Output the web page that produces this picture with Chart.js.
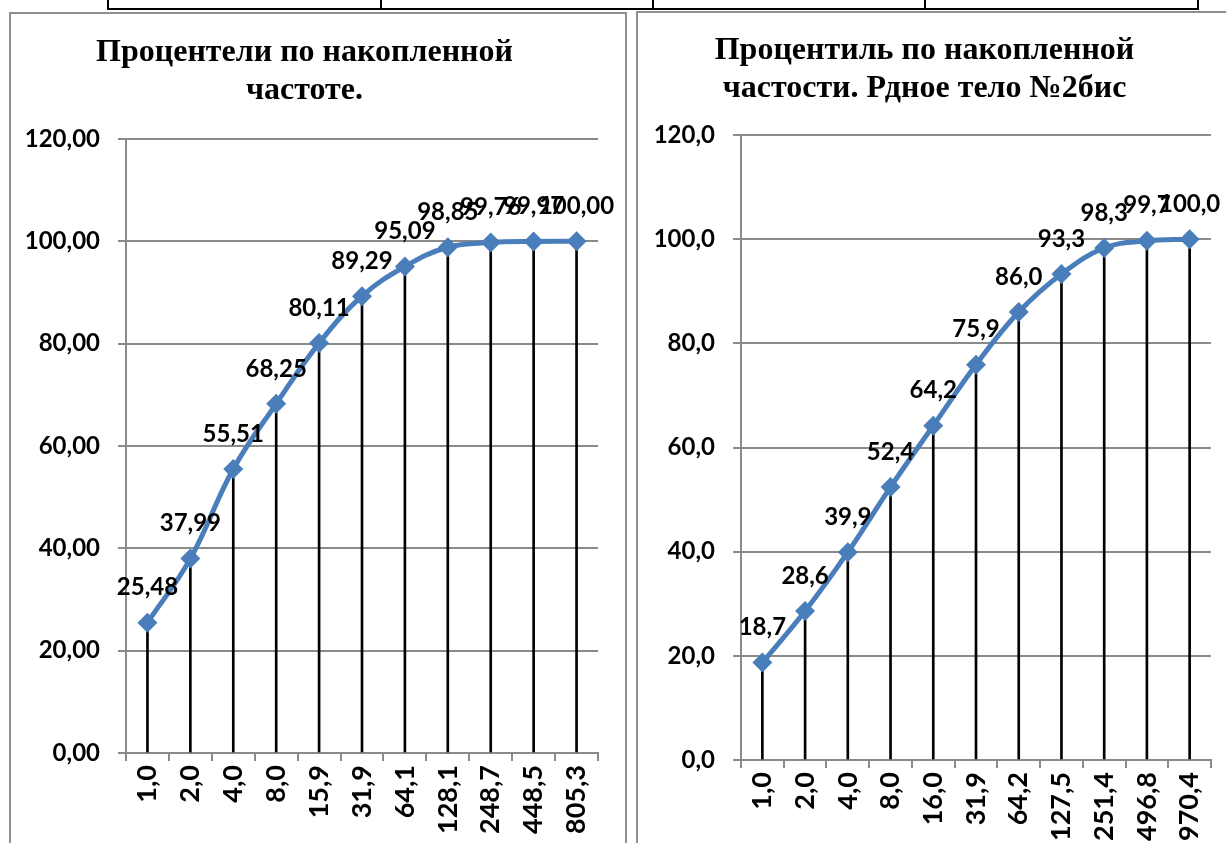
<!DOCTYPE html>
<html>
<head>
<meta charset="utf-8">
<script src="https://cdn.jsdelivr.net/npm/chart.js@4.4.0/dist/chart.umd.min.js"></script>
<style>
  body { margin: 0; background: #fff; width: 1226px; height: 843px; overflow: hidden; position: relative; }
  .tbl { position: absolute; left: 107px; top: -20px; width: 1088px; height: 26px; border: 2px solid #000; }
  .tbl div { position: absolute; top: 0; bottom: 0; border-left: 2px solid #000; }
  .box { position: absolute; border: 2px solid #8f8f8f; background: #fff; }
  #box1 { left: 9px; top: 12px; width: 614px; height: 860px; }
  #box2 { left: 636px; top: 11px; width: 600px; height: 860px; }
  canvas { display: block; }
</style>
</head>
<body>
<div class="tbl"><div style="left:271px"></div><div style="left:543px"></div><div style="left:815px"></div></div>
<div class="box" id="box1"><canvas id="chart1" width="614" height="860"></canvas></div>
<div class="box" id="box2"><canvas id="chart2" width="600" height="860"></canvas></div>
<script>
// cumulative frequency, sample 1
const freqLabels1 = ["1,0", "2,0", "4,0", "8,0", "15,9", "31,9", "64,1", "128,1", "248,7", "448,5", "805,3"];
const cumPercent1 = [25.48, 37.99, 55.51, 68.25, 80.11, 89.29, 95.09, 98.85, 99.76, 99.97, 100.00];

// cumulative frequency, ore body #2bis
const freqLabels2 = ["1,0", "2,0", "4,0", "8,0", "16,0", "31,9", "64,2", "127,5", "251,4", "496,8", "970,4"];
const cumPercent2 = [18.7, 28.6, 39.9, 52.4, 64.2, 75.9, 86.0, 93.3, 98.3, 99.7, 100.0];

const title1 = ["Процентели по накопленной", "частоте."];
const title2 = ["Процентиль по накопленной", "частости. Рдное тело №2бис"];

const lineBlue = "#4A7EBB";
const gridGray = "#8a8a8a";
const tickFont = { family: "Lato", size: 24, weight: "bold" };
const xTickFont = { family: "Lato", size: 27, weight: "bold" };

function fmt(v, dec) {
    return v.toFixed(dec).replace(".", ",");
}

// writes the value above every marker of the line
const valueLabels = {
    id: "valueLabels",
    afterDatasetsDraw(chart, args, opts) {
        const meta = chart.getDatasetMeta(0);
        const values = chart.data.datasets[0].data;
        const ctx = chart.ctx;
        ctx.save();
        ctx.font = "bold 24px Lato";
        ctx.fillStyle = "#000";
        ctx.textAlign = "center";
        ctx.textBaseline = "middle";
        meta.data.forEach((pt, i) => {
            ctx.fillText(fmt(values[i], opts.decimals), pt.x, pt.y - 35);
        });
        ctx.restore();
    }
};

function makeChart(id, labels, values, title, dec, cfg) {
    const ctx = document.getElementById(id).getContext("2d");
    return new Chart(ctx, {
        type: "bar",
        data: {
            labels: labels,
            datasets: [{
                type: "line",
                data: values,
                borderColor: lineBlue,
                backgroundColor: lineBlue,
                borderWidth: 5,
                tension: 0.4,
                pointStyle: "rectRot",
                pointRadius: 10,
                pointBorderWidth: 0,
                pointBackgroundColor: lineBlue,
                order: 0,
            }, {
                // drop lines from each point down to the axis
                data: values,
                backgroundColor: "#000",
                barThickness: 2,
                order: 1,
            }]
        },
        options: {
            responsive: false,
            animation: false,
            layout: { padding: { left: 0, right: 27, top: 0, bottom: 0 } },
            plugins: {
                legend: { display: false },
                tooltip: { enabled: false },
                title: {
                    display: true,
                    text: title,
                    color: "#000",
                    font: { family: "Liberation Serif", size: 32, weight: "bold", lineHeight: 38 / 32 },
                    padding: { top: cfg.titleTop, bottom: cfg.titleBottom },
                },
                valueLabels: { decimals: dec },
            },
            scales: {
                x: {
                    afterFit: (scale) => { scale.height = cfg.xHeight; },
                    offset: true,
                    border: { color: gridGray, width: 2 },
                    grid: { offset: true, drawOnChartArea: false, drawTicks: true, tickLength: 8, color: gridGray, lineWidth: 2 },
                    ticks: { color: "#000", font: xTickFont, minRotation: 90, maxRotation: 90, autoSkip: false, padding: 4 },
                },
                y: {
                    afterFit: (scale) => { scale.width = cfg.yWidth; },
                    min: 0,
                    max: 120,
                    border: { color: gridGray, width: 2 },
                    grid: { color: gridGray, lineWidth: 2, tickLength: 8 },
                    ticks: {
                        stepSize: 20,
                        color: "#000",
                        font: tickFont,
                        padding: 18,
                        callback: (v) => fmt(v, dec),
                    },
                },
            },
        },
        plugins: [valueLabels],
    });
}

document.addEventListener("DOMContentLoaded", function() {
    makeChart("chart1", freqLabels1, cumPercent1, title1, 2,
        { titleTop: 20, titleBottom: 29, xHeight: 121, yWidth: 115 });
    makeChart("chart2", freqLabels2, cumPercent2, title2, 1,
        { titleTop: 19, titleBottom: 27, xHeight: 113, yWidth: 103 });
});
</script>
</body>
</html>
